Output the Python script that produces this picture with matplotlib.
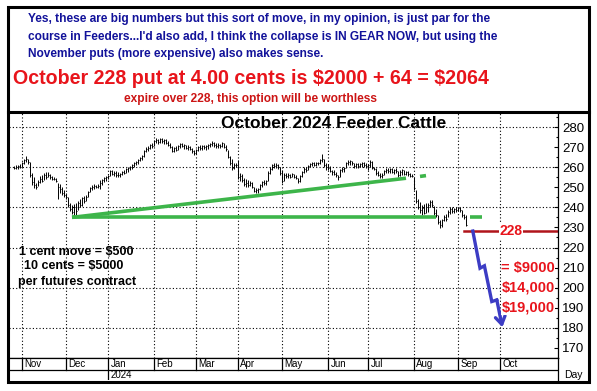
import matplotlib
matplotlib.use('Agg')
import matplotlib.pyplot as plt
from matplotlib.patches import Rectangle
from matplotlib.lines import Line2D
import pandas as pd

plt.rcParams['font.family'] = ['Liberation Sans', 'DejaVu Sans']
plt.rcParams['text.parse_math'] = False

# daily bars, Oct 26 2023 .. Sep 6 2024 (one row per week)
high = [
    260.5, 261,
    261, 261.5, 262.5, 264, 265.8,
    264, 262.5, 257, 255, 252,
    253.5, 255.5, 256, 257, 257.5,
    257.5, 256.5, 255.5, 255, 254.5,
    252, 251.5, 250, 248.5, 247,
    245, 242, 241, 241.5, 242,
    243, 244, 245, 245.5, 246,
    248, 250, 251, 251.5, 251,
    251.5, 253.5, 254, 255, 255.5,
    256, 258.5, 258.5, 258, 258,
    257.5, 257, 258, 258.5, 259.5,
    260, 260.5, 261.5, 262.5, 263,
    264, 265, 266, 268.5, 270,
    270.5, 271.5, 272, 273.5, 274.5,
    274, 274.7, 274.5, 274, 274,
    273, 272, 270.5, 270, 270.5,
    271, 272, 272, 271.5, 271,
    271, 270.5, 269.5, 268.5, 269,
    270.5, 271, 271, 271, 271,
    271.5, 272, 272.8, 272.5, 272,
    272, 271.5, 272.5, 272, 271,
    268.5, 265.5, 264, 262, 262,
    263.5, 257, 256.5, 254.6, 254,
    253.6, 253, 252.5, 250, 249.5,
    249.5, 251.5, 253, 253.6, 253.5,
    258, 260, 261.5, 262, 262,
    261.5, 260, 258.6, 257, 257,
    257, 256.5, 257, 256.5, 256,
    254.5, 256, 258, 260, 260,
    261, 262, 262.7, 262.5, 262.5,
    262.5, 264, 266.6, 264, 262,
    261.5, 260.5, 258.6, 258.5, 257.5,
    256, 259, 260, 260, 262.5,
    263.6, 263.5, 263, 262, 262,
    262, 262, 262.7, 262.5, 262,
    261.5, 263.6, 263, 260, 259.6,
    258, 257, 257, 258.5, 259.6,
    259.6, 259.5, 259.6, 259, 259.5,
    258, 258.5, 259, 258.6, 258,
    258, 257, 256.7, 255.3, 248.6,
    244, 242.5, 241, 241.5, 242,
    242, 243.6, 243.5, 240.5, 239,
    236, 233.5, 234, 236, 236.5,
    238.5, 240.3, 240, 239.5, 240,
    240, 240.3, 238.5, 236.5, 236,
]
low = [
    259, 259.2,
    259, 259.5, 260, 261.5, 262.5,
    261.5, 255, 251, 249.5, 249,
    250.5, 252, 252.5, 253.5, 254,
    255, 254, 253.5, 253.5, 252.5,
    244, 247, 246, 245, 244,
    240, 238, 236.5, 235.7, 236,
    238.5, 240, 240.5, 242, 243,
    245, 247.5, 248.5, 249, 249.5,
    249.5, 249, 251, 252.5, 253,
    254, 255.5, 256, 255.5, 255,
    255, 255, 256, 256.5, 257,
    257.5, 258.5, 259, 260, 261,
    261.5, 263, 263.5, 265, 267.5,
    268, 269, 269.5, 270.5, 272,
    271.5, 272, 272, 271.5, 271.5,
    270.5, 269.5, 267.5, 267.8, 268,
    268.5, 269.5, 270, 269, 269,
    268.5, 268.5, 267, 266, 266.5,
    268, 268.5, 268.5, 269, 268.5,
    269, 270, 270.5, 270, 269.5,
    269.5, 269.5, 270, 269.5, 268,
    264.5, 261, 258.6, 259, 260,
    254, 253, 252.8, 250.5, 250,
    250.3, 250.5, 249.5, 247.5, 247,
    247, 248.5, 250.3, 251, 251,
    253, 256.5, 258.5, 259.6, 259.5,
    259, 256, 252, 253, 254.6,
    254.6, 254.6, 255, 254.5, 254,
    252, 252.5, 255, 257, 257.5,
    258.5, 260, 260.5, 260.5, 260.5,
    261, 261.5, 262.5, 260, 258.6,
    258.6, 257.5, 256, 256, 255,
    253.6, 255, 257.8, 257.8, 259.5,
    261, 261, 261, 259.6, 259.6,
    259.6, 260, 260.2, 260.2, 259.5,
    258.6, 260, 259, 258.5, 256,
    255.5, 254.6, 254.8, 256, 257,
    257, 257, 257, 256.5, 257,
    255.3, 255.5, 256, 256, 256,
    255.5, 255, 255, 248.6, 242,
    239, 237, 236, 236.5, 237,
    237.5, 240.3, 240, 236, 235.4,
    231.5, 229.6, 230, 233, 233,
    235, 236.5, 237, 237, 237.5,
    238, 237.9, 235.4, 234, 230.7,
]
close = [
    259.8, 260,
    260.5, 260, 262, 263.5, 264,
    262.5, 256, 252.5, 251, 250,
    252.5, 254, 253, 256, 255,
    256, 255, 254, 254, 253,
    250, 249, 247, 246, 245,
    241, 239, 237.5, 240, 238,
    242, 241, 244.5, 243, 245,
    247.5, 249.5, 250, 250.5, 250,
    250.5, 252, 253.5, 254.5, 255,
    255.5, 258, 256.5, 257, 256,
    256, 256.5, 257.5, 257, 259,
    259.5, 260, 261, 262, 262.5,
    263.5, 264.5, 265.5, 268, 269,
    269.5, 271, 270.5, 273, 273.5,
    272.5, 274, 273, 273.5, 272,
    271, 270, 268, 269.5, 268.5,
    270.5, 271.5, 270.5, 271, 269.5,
    270, 269, 268, 267, 268.5,
    270, 269.5, 270.5, 270, 270.5,
    271, 271.5, 272, 271, 270.5,
    271, 270.5, 272, 270, 269,
    265, 262, 259.5, 261, 261,
    255, 255.5, 253.5, 251.5, 252,
    251, 252, 250, 248, 248.5,
    249, 251, 252.5, 252, 253,
    257, 259, 261, 260.5, 261,
    260, 257, 253, 256, 255.5,
    256, 255, 256.5, 255, 254.5,
    253, 255.5, 257.5, 259, 258.5,
    260.5, 261.5, 262, 261, 262,
    262, 263.5, 264, 261, 260,
    259.5, 258, 257.5, 256.5, 256,
    255, 258.5, 259, 259.5, 262,
    262.5, 263, 262, 260.5, 261.5,
    260.5, 261.5, 262, 261, 260.5,
    261, 262.5, 259.5, 259, 257,
    256, 255.5, 256, 258, 258.5,
    258, 259, 257.5, 258.5, 258,
    256, 257.5, 258.5, 256.5, 257.5,
    256.5, 255.5, 255.5, 249.5, 243,
    240, 238.5, 239.5, 237, 240,
    241, 242.5, 241, 237, 236,
    232.5, 231, 233.5, 235, 234,
    237.5, 239, 238, 239, 238.5,
    239.5, 238.5, 236, 235, 231,
]

month_starts = ['2023-11-01', '2023-12-01', '2024-01-01', '2024-02-01', '2024-03-01', '2024-04-01',
                '2024-05-01', '2024-06-01', '2024-07-01', '2024-08-01', '2024-09-01', '2024-10-01']
month_names = ['Nov', 'Dec', 'Jan', 'Feb', 'Mar', 'Apr', 'May', 'Jun', 'Jul', 'Aug', 'Sep', 'Oct']
price_ticks = [170, 180, 190, 200, 210, 220, 230, 240, 250, 260, 270, 280]

# drawn lines
support = ('2023-12-06', '2024-08-16', 235.0)
support2 = ('2024-09-10', '2024-09-18', 235.0)
trend = ('2023-12-06', 235.0, '2024-07-26', 254.5)
trend_dash = ('2024-08-06', 255.4, '2024-08-09', 255.8)
strike = 228
strike_from = '2024-09-05'
# projected move (trading days after last bar, price)
arrow_steps = [3.4, 7.0, 9.2, 12.9, 15.4, 18.2]
arrow_prices = [228.2, 209.7, 210.9, 193.1, 193.9, 180.3]
payoff_labels = ['= $9000', '$14,000', '$19,000']
payoff_prices = [210, 200, 190]

days = pd.bdate_range('2023-10-26', '2024-12-31')
pos = lambda d: days.get_loc(pd.Timestamp(d))
xb = list(range(len(close)))
month_pos = [days.searchsorted(pd.Timestamp(m)) for m in month_starts]

W, H = 597, 391
fig = plt.figure(figsize=(W / 100, H / 100), dpi=100)
fx = lambda p: p / W
fy = lambda p: 1 - p / H

NAVY = '#12129a'
RED = '#e8141b'

# heading text
blue_lines = ["Yes, these are big numbers but this sort of move, in my opinion, is just par for the",
              "course in Feeders...I'd also add, I think the collapse is IN GEAR NOW, but using the",
              "November puts (more expensive) also makes sense."]
for t, y in zip(blue_lines, [19, 37, 54]):
    fig.text(fx(28), fy(y), t, color=NAVY, fontsize=8.6, fontweight='bold', ha='left', va='center')
fig.text(fx(251), fy(78), 'October 228 put at 4.00 cents is $2000 + 64 = $2064', color=RED,
         fontsize=14.1, fontweight='bold', ha='center', va='center')
fig.text(fx(250), fy(99), 'expire over 228, this option will be worthless', color='#cc1414',
         fontsize=8.6, fontweight='bold', ha='center', va='center')

# price panel
ax = fig.add_axes([fx(9), fy(358), (558 - 9) / W, (358 - 113) / H])
ax.set_xlim(-2.5, 272)
ax.set_ylim(165.0, 286.97)
for s in ['left', 'top']:
    ax.spines[s].set_visible(False)
ax.spines['right'].set_linewidth(0.9)
ax.spines['bottom'].set_linewidth(0.9)
ax.set_xticks([])
ax.yaxis.tick_right()
ax.set_yticks(price_ticks)
ax.set_yticks(range(165, 290, 5), minor=True)
ax.tick_params(axis='y', which='major', direction='in', length=3, width=0.8, labelsize=9.5, pad=3)
ax.tick_params(axis='y', which='minor', direction='in', length=1.5, width=0.8)

dot = (0, (1, 2))
for m in month_pos:
    ax.axvline(m, color='black', lw=0.8, ls=dot, zorder=0)
for p in range(180, 290, 20):
    ax.axhline(p, color='black', lw=0.8, ls=dot, zorder=0)

ax.vlines(xb, low, high, color='black', lw=0.7)
ax.hlines(close, xb, [x + 0.7 for x in xb], color='black', lw=0.7)

GREEN = '#3db54a'
ax.plot([pos(support[0]), pos(support[1])], [support[2]] * 2, color=GREEN, lw=2.6, solid_capstyle='butt')
ax.plot([pos(support2[0]), pos(support2[1])], [support2[2]] * 2, color=GREEN, lw=2.6, solid_capstyle='butt')
ax.plot([pos(trend[0]), pos(trend[2])], [trend[1], trend[3]], color=GREEN, lw=2.6, solid_capstyle='butt')
ax.plot([pos(trend_dash[0]), pos(trend_dash[2])], [trend_dash[1], trend_dash[3]], color=GREEN, lw=2.6,
        solid_capstyle='butt')

ax.plot([pos(strike_from), 272], [strike, strike], color='#b0141b', lw=1.8)
ax.text(248.5, strike, str(strike), color=RED, fontsize=10, fontweight='bold', ha='center', va='center',
        bbox=dict(fc='white', ec='none', pad=0.3))

BLUE = '#3c3cc4'
ax_x = [xb[-1] + s for s in arrow_steps]
ax.plot(ax_x[:-1], arrow_prices[:-1], color=BLUE, lw=2.4, solid_joinstyle='miter')
ax.annotate('', xy=(ax_x[-1], arrow_prices[-1]), xytext=(ax_x[-2], arrow_prices[-2]),
            arrowprops=dict(arrowstyle='->, head_length=0.55, head_width=0.35', color=BLUE, lw=2.4,
                            shrinkA=0, shrinkB=0))

for t, p in zip(payoff_labels, payoff_prices):
    ax.text(270.5, p, t, color=RED, fontsize=10.5, fontweight='bold', ha='right', va='center',
            bbox=dict(fc='white', ec='none', pad=0.3))

fig.text(fx(334), fy(123), 'October 2024 Feeder Cattle', fontsize=12.5, fontweight='bold', ha='center', va='center')
for t, x, y in [('1 cent move = $500', 19, 252), ('10 cents = $5000', 24, 266), ('per futures contract', 18, 282)]:
    fig.text(fx(x), fy(y), t, fontsize=9, fontweight='bold', ha='left', va='center')

# date band
axd = fig.add_axes([fx(9), fy(380), (558 - 9) / W, (380 - 358) / H])
axd.set_xlim(-2.5, 272)
axd.set_ylim(0, 1)
axd.set_xticks([])
axd.set_yticks([])
for s in ['left', 'bottom']:
    axd.spines[s].set_visible(False)
axd.spines['top'].set_linewidth(0.9)
axd.spines['right'].set_linewidth(0.9)
mid = (380 - 370) / 22
axd.axhline(mid, color='black', lw=0.9)
for m, name in zip(month_pos, month_names):
    axd.plot([m, m], [0 if name == 'Jan' else mid, 1], color='black', lw=0.9)
    axd.text(m + 1.2, (1 + mid) / 2, name, fontsize=7, ha='left', va='center')
axd.text(month_pos[2] + 1.2, mid / 2, '2024', fontsize=7, ha='left', va='center')
fig.text(fx(573), fy(375), 'Day', fontsize=7.5, ha='center', va='center')

# outer frame and separator
fig.add_artist(Rectangle((fx(7.5), fy(381.5)), fx(588.5) - fx(7.5), fy(6.5) - fy(381.5),
                         transform=fig.transFigure, fill=False, lw=2.2, ec='black'))
fig.add_artist(Line2D([fx(7.5), fx(588.5)], [fy(112), fy(112)], transform=fig.transFigure, lw=2.2, color='black'))

fig.savefig('out.png', dpi=100)
